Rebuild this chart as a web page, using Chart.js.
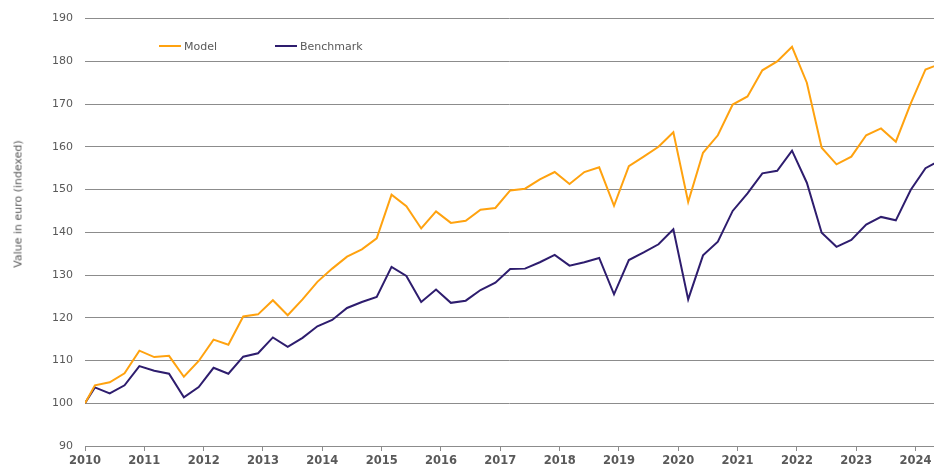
<!DOCTYPE html>
<html>
<head>
    <title>Model vs Benchmark</title>
    <script src="https://cdn.jsdelivr.net/npm/chart.js"></script>
    <style>
        html, body {
            margin: 0;
            padding: 0;
            background: #fff;
            overflow: hidden;
        }
        #wrap {
            position: relative;
            width: 934px;
            height: 465px;
            font-family: 'DejaVu Sans', Verdana, sans-serif;
            color: #595959;
        }
        #yTitle {
            position: absolute;
            left: 18px;
            top: 204px;
            transform: translate(-50%, -50%) rotate(-90deg);
            font-size: 11px;
            white-space: nowrap;
        }
        .leg {
            position: absolute;
            top: 39px;
            display: flex;
            align-items: center;
            font-size: 11px;
            height: 14px;
        }
        .leg span.swatch {
            display: inline-block;
            width: 22px;
            height: 2px;
            margin-right: 3px;
        }
    </style>
</head>
<body>
    <div id="wrap">
        <canvas id="plot" width="934" height="465"></canvas>
        <div id="yTitle">Value in euro (indexed)</div>
        <div class="leg" style="left:159px"><span class="swatch" style="background:#FFA20F"></span>Model</div>
        <div class="leg" style="left:275px"><span class="swatch" style="background:#2E1D6E"></span>Benchmark</div>
    </div>

    <script>
        // quarterly dates (first point is the index base)
        const dates = ['2010-01',
            '2010-03', '2010-06', '2010-09', '2010-12',
            '2011-03', '2011-06', '2011-09', '2011-12',
            '2012-03', '2012-06', '2012-09', '2012-12',
            '2013-03', '2013-06', '2013-09', '2013-12',
            '2014-03', '2014-06', '2014-09', '2014-12',
            '2015-03', '2015-06', '2015-09', '2015-12',
            '2016-03', '2016-06', '2016-09', '2016-12',
            '2017-03', '2017-06', '2017-09', '2017-12',
            '2018-03', '2018-06', '2018-09', '2018-12',
            '2019-03', '2019-06', '2019-09', '2019-12',
            '2020-03', '2020-06', '2020-09', '2020-12',
            '2021-03', '2021-06', '2021-09', '2021-12',
            '2022-03', '2022-06', '2022-09', '2022-12',
            '2023-03', '2023-06', '2023-09', '2023-12',
            '2024-03', '2024-06'];

        const model = [100,
            104.2, 104.9, 107.0, 112.3,
            110.8, 111.1, 106.2, 109.9,
            114.9, 113.7, 120.3, 120.8,
            124.1, 120.6, 124.3, 128.4,
            131.5, 134.3, 136.0, 138.6,
            148.8, 146.1, 140.9, 144.9,
            142.2, 142.7, 145.3, 145.7,
            149.8, 150.2, 152.4, 154.1,
            151.3, 154.1, 155.2, 146.2,
            155.5, 157.7, 160.0, 163.4,
            147.1, 158.6, 162.7, 169.9,
            171.8, 177.9, 180.0, 183.4,
            175.0, 159.8, 155.9, 157.7,
            162.7, 164.3, 161.2, 170.1,
            178.1, 179.4];

        const benchmark = [100,
            103.7, 102.3, 104.2, 108.7,
            107.6, 106.9, 101.4, 103.8,
            108.3, 106.9, 110.9, 111.7,
            115.4, 113.2, 115.3, 118.0,
            119.5, 122.3, 123.7, 124.9,
            131.9, 129.8, 123.7, 126.6,
            123.5, 124.0, 126.5, 128.2,
            131.4, 131.5, 133.0, 134.7,
            132.2, 133.0, 134.0, 125.5,
            133.5, 135.3, 137.2, 140.7,
            124.3, 134.6, 137.8, 145.0,
            149.1, 153.8, 154.4, 159.1,
            151.6, 139.9, 136.6, 138.2,
            141.8, 143.6, 142.8, 149.9,
            155.0, 156.9];

        const yearTicks = [2010, 2011, 2012, 2013, 2014, 2015, 2016, 2017, 2018, 2019, 2020, 2021, 2022, 2023, 2024];
        const valueTicks = [90, 100, 110, 120, 130, 140, 150, 160, 170, 180, 190];

        // 'YYYY-MM' -> decimal year (Jan = .0)
        function toYear(d) {
            const p = d.split('-');
            return parseInt(p[0]) + (parseInt(p[1]) - 1) / 12;
        }

        const gridColor = '#8c8c8c';
        const textColor = '#595959';

        new Chart(document.getElementById('plot').getContext('2d'), {
            type: 'line',
            data: {
                datasets: [{
                    label: 'Model',
                    data: dates.map((d, i) => ({ x: toYear(d), y: model[i] })),
                    borderColor: '#FFA20F',
                    borderWidth: 2,
                    pointRadius: 0,
                    tension: 0
                }, {
                    label: 'Benchmark',
                    data: dates.map((d, i) => ({ x: toYear(d), y: benchmark[i] })),
                    borderColor: '#2E1D6E',
                    borderWidth: 2,
                    pointRadius: 0,
                    tension: 0
                }]
            },
            options: {
                responsive: false,
                animation: false,
                layout: { padding: { top: 18, right: 0, left: 0, bottom: 0 } },
                plugins: {
                    legend: { display: false },
                    tooltip: { enabled: false }
                },
                scales: {
                    x: {
                        type: 'linear',
                        min: 2010,
                        max: 2024.31,
                        afterBuildTicks: s => { s.ticks = yearTicks.map(v => ({ value: v })); },
                        afterFit: s => { s.height = 19; s.paddingRight = 0; },
                        grid: { drawOnChartArea: false, drawTicks: true, tickLength: 5, color: gridColor },
                        border: { display: true, color: gridColor },
                        ticks: {
                            padding: 3,
                            maxRotation: 0,
                            color: textColor,
                            font: { family: 'DejaVu Sans', size: 11.5, weight: 'bold' },
                            callback: v => String(v)
                        }
                    },
                    y: {
                        min: 90,
                        max: 190,
                        afterBuildTicks: s => { s.ticks = valueTicks.map(v => ({ value: v })); },
                        afterFit: s => { s.width = 85; },
                        grid: { color: gridColor, drawTicks: false },
                        border: { display: false },
                        ticks: {
                            padding: 12,
                            color: textColor,
                            font: { family: 'DejaVu Sans', size: 11 }
                        }
                    }
                }
            }
        });
    </script>
</body>
</html>
